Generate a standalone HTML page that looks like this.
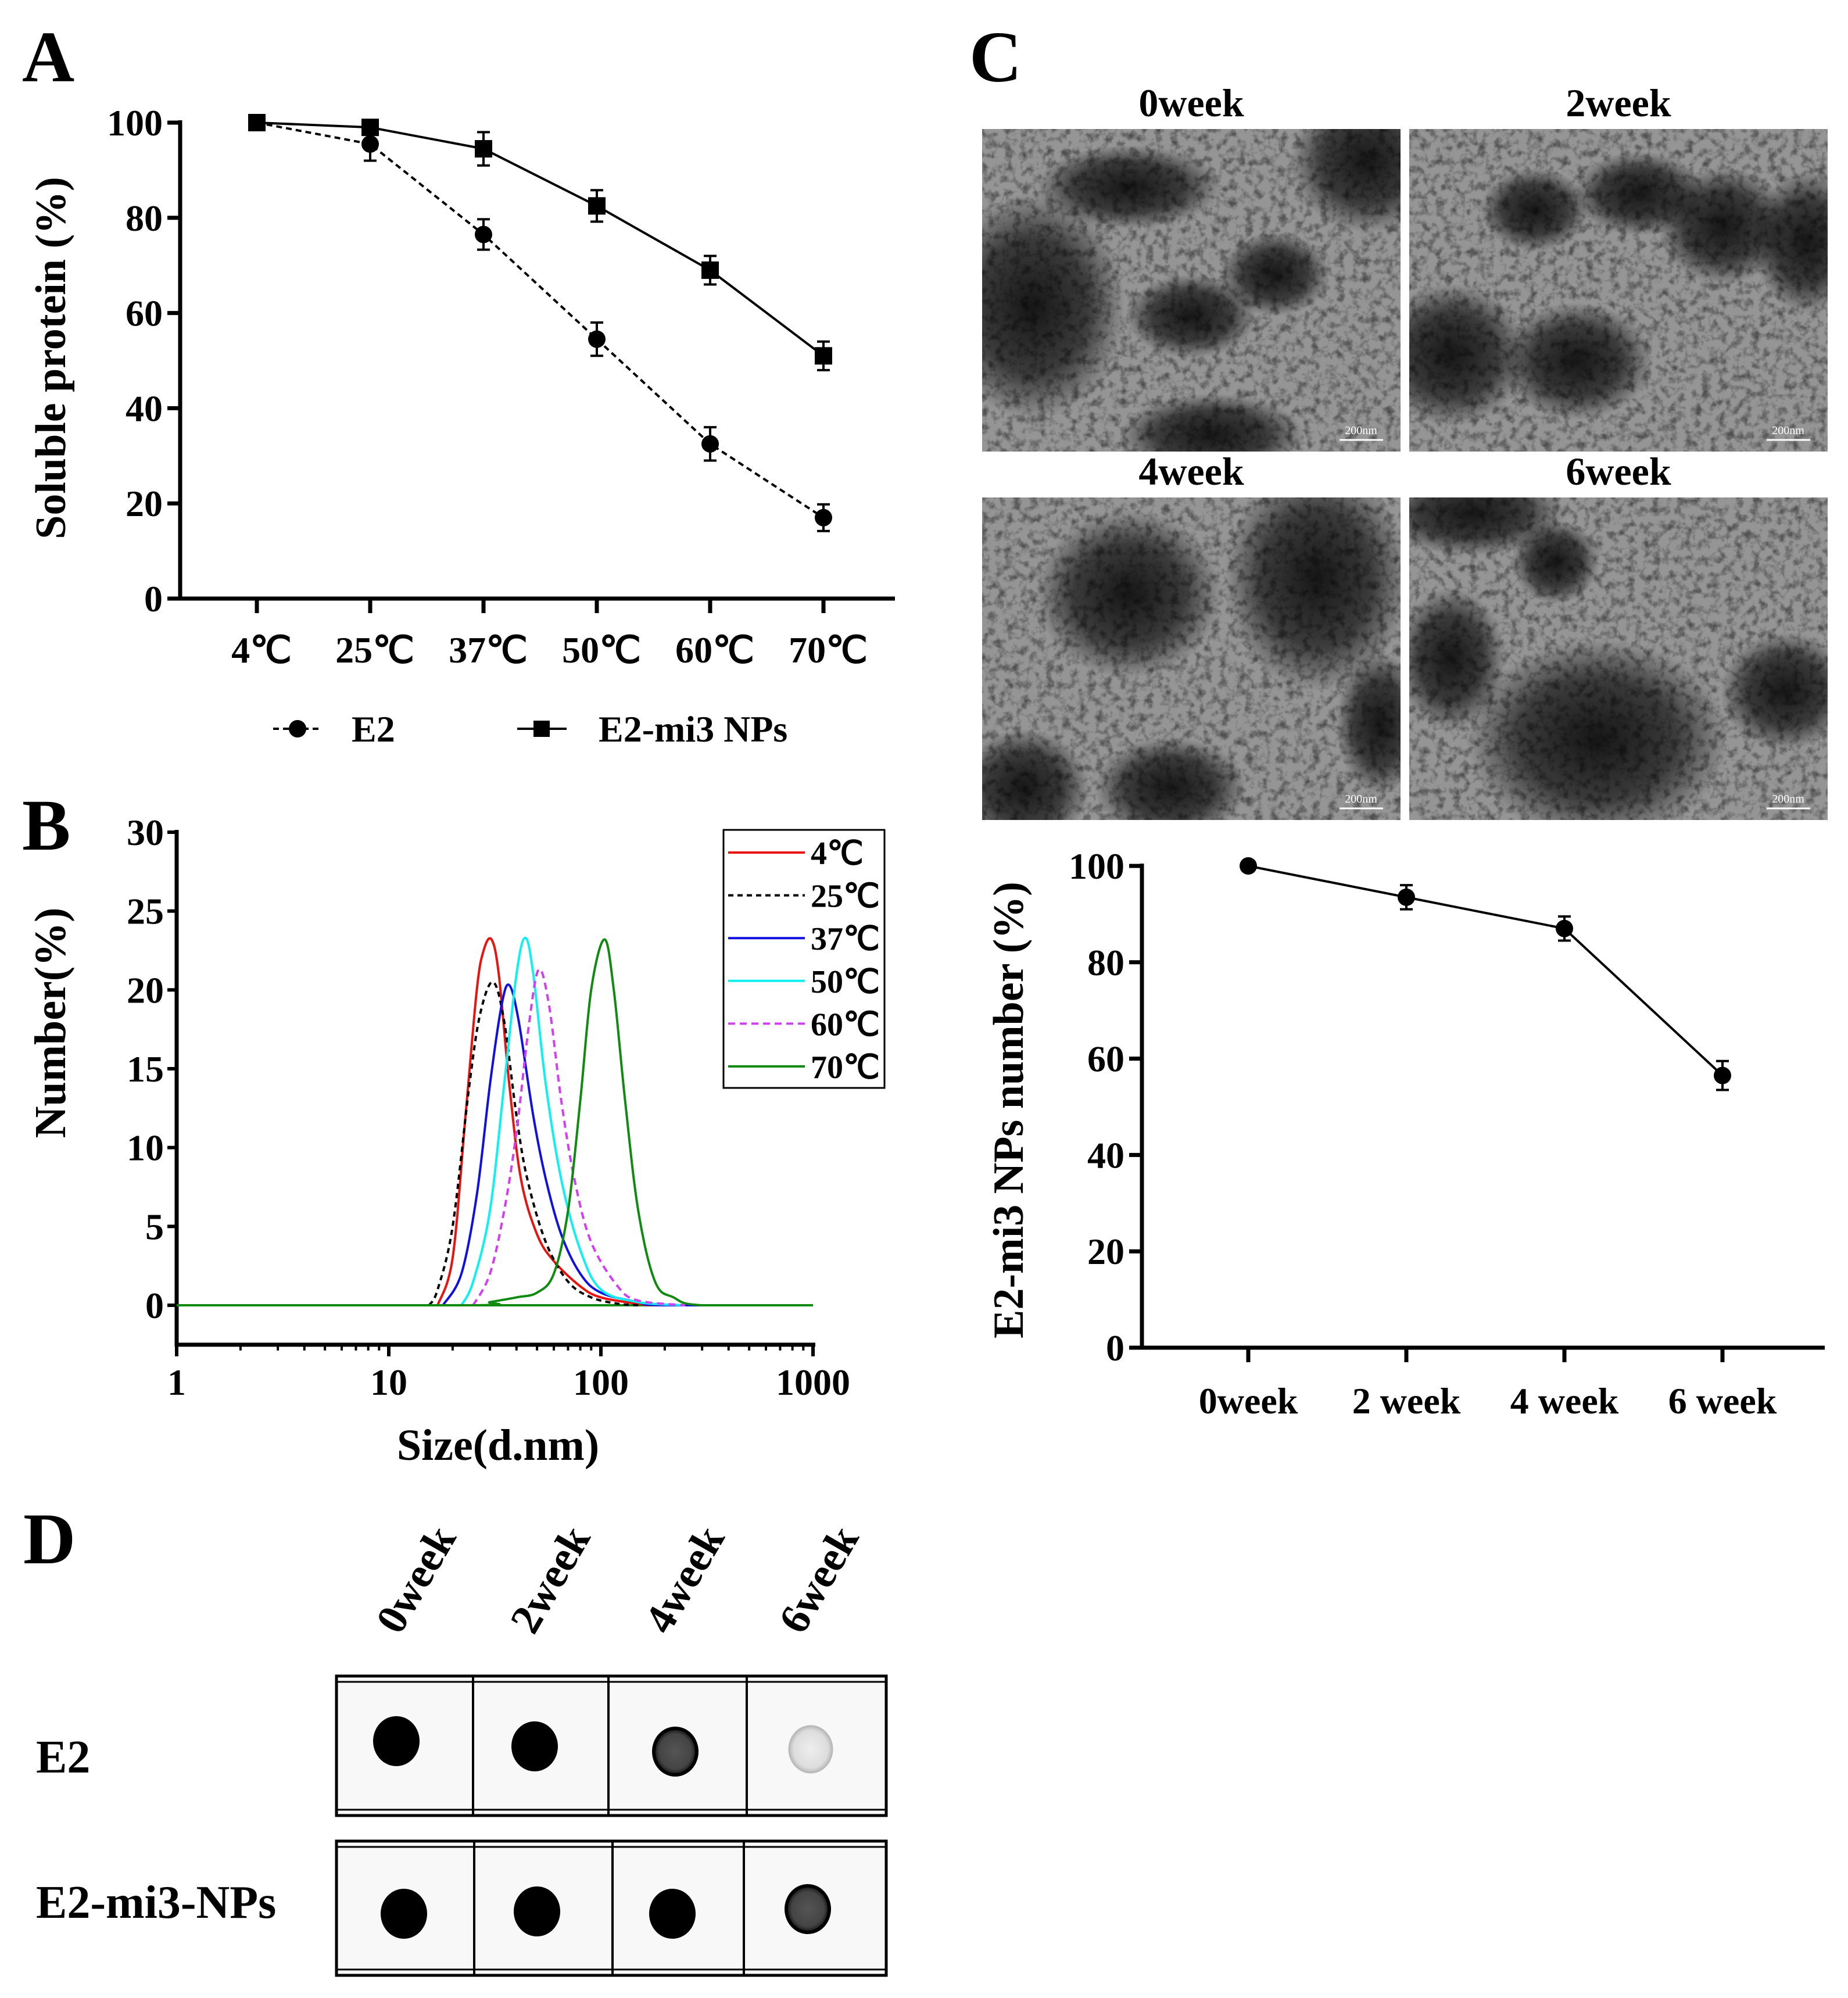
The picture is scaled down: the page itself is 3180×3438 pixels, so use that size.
<!DOCTYPE html>
<html><head><meta charset="utf-8"><style>
html,body{margin:0;padding:0;background:#fff}
svg{display:block;font-family:"Liberation Serif",serif;font-weight:bold}
</style></head><body>
<svg id="fig" width="3180" height="3438" viewBox="0 0 3180 3438" xmlns="http://www.w3.org/2000/svg">
<defs>
<filter id="noise" x="0" y="0" width="100%" height="100%">
<feTurbulence type="fractalNoise" baseFrequency="0.07" numOctaves="3" seed="4"/>
<feColorMatrix type="matrix" values="0 0 0 0 0.08  0 0 0 0 0.08  0 0 0 0 0.08  0 0 0 -2.6 1.45"/>
</filter>
<radialGradient id="blob"><stop offset="0" stop-color="#000" stop-opacity="0.85"/><stop offset="0.6" stop-color="#000" stop-opacity="0.6"/><stop offset="1" stop-color="#000" stop-opacity="0"/></radialGradient>
<radialGradient id="ring"><stop offset="0" stop-color="#555"/><stop offset="0.75" stop-color="#444"/><stop offset="1" stop-color="#111"/></radialGradient>
<radialGradient id="faint"><stop offset="0" stop-color="#eee"/><stop offset="0.8" stop-color="#ddd"/><stop offset="1" stop-color="#bbb"/></radialGradient>
<clipPath id="clip0"><rect x="1690" y="222" width="720" height="555"/></clipPath>
<clipPath id="clip1"><rect x="2425" y="222" width="720" height="555"/></clipPath>
<clipPath id="clip2"><rect x="1690" y="856" width="720" height="555"/></clipPath>
<clipPath id="clip3"><rect x="2425" y="856" width="720" height="555"/></clipPath>
</defs>
<g id="A"></g>
<g id="B"></g>
<g id="C"></g>
<g id="D"></g>
</svg>
<script>
// ---- Panel A data ----
const aCategories = ["4℃","25℃","37℃","50℃","60℃","70℃"];
const aE2 = [100,95.5,76.5,54.5,32.5,17];
const aE2err = [0,3.5,3.2,3.5,3.5,2.8];
const aNP = [100,99,94.5,82.5,69,51];
const aNPerr = [0,1,3.5,3.3,3,3];
const aYTicks = [0,20,40,60,80,100];
// ---- Panel B data ----
const bXTicks = [1,10,100,1000];
const bYTicks = [0,5,10,15,20,25,30];
const bLabels = ["4℃","25℃","37℃","50℃","60℃","70℃"];
const bColors = ["#e8120f","#000","#1010e0","#10f0f0","#d040f0","#108a10"];
const bDash = ["","9,7","","","12,8",""];
const b4x = [17,20,23,26,28,30.5,33,37,42,50,60,80,100,150,200,1000];
const b4y = [0,3,12,20,22.5,23.2,21,14,8,4.5,2.8,1.2,0.5,0.1,0,0];
const b25x = [15.5,17,20,24,27,31,35,40,45,55,70,90,120,150];
const b25y = [0,1,5,14,18.5,20.5,18,12,8,4,1.5,0.5,0.1,0];
const b37x = [18,22,26,30,34,37,41,48,55,65,80,100,150,200,1000];
const b37y = [0,2,7,14,19,20.3,18,12,8,4.5,2,0.8,0.2,0,0];
const b50x = [22,25,30,35,40,44,48,55,65,80,100,150,250];
const b50y = [0,1.5,6,14,21,23.3,21,14,8,3.5,1,0.2,0];
const b60x = [25,30,35,40,46,51,57,65,75,90,120,150,250];
const b60y = [0,2,6,11,18,21.3,19,13,8,4,1.2,0.3,0];
const b70x = [1,25,30,40,50,60,70,80,90,104,115,130,150,180,220,300,1000];
const b70y = [0,0,0.2,0.5,0.8,2,6,13,20,23.2,20,13,6,1.5,0.5,0,0];
// ---- Panel C data ----
const cCategories = ["0week","2 week","4 week","6 week"];
const cVals = [100,93.5,87,56.5];
const cErr = [0,2.5,2.5,3];
const cYTicks = [0,20,40,60,80,100];
const cImgLabels = ["0week","2week","4week","6week"];
// ---- Panel D data ----
const dWeeks = ["0week","2week","4week","6week"];
const dRows = ["E2","E2-mi3-NPs"];
const dIntensityE2 = [1,1,0.7,0.1];
const dIntensityNP = [1,1,1,0.75];

const NS="http://www.w3.org/2000/svg";
function mk(tag,attrs,parent,txt){const e=document.createElementNS(NS,tag);for(const k in attrs)e.setAttribute(k,attrs[k]);if(txt!==undefined)e.textContent=txt;parent.appendChild(e);return e;}

// ================= Panel A =================
const A=document.getElementById('A');
const aX0=310,aX1=1540,aY0=1030,aY1=211;
const aCatX=i=>442+i*195;
const aY=v=>aY0+(aY1-aY0)*v/100;
let t=mk('text',{x:38,y:140,'font-size':125},A,'A');

let ax=mk('path',{d:`M${aX0},${aY1-4}V${aY0}H${aX1}`,stroke:'#000','stroke-width':7,fill:'none'},A);

aYTicks.forEach(v=>{
  let tk=mk('line',{x1:aX0-22,x2:aX0,y1:aY(v),y2:aY(v),stroke:'#000','stroke-width':7},A);
  
  let l=mk('text',{x:aX0-30,y:aY(v)+22,'font-size':64,'text-anchor':'end'},A,v);
  
});
aCategories.forEach((c,i)=>{
  let tk=mk('line',{x1:aCatX(i),x2:aCatX(i),y1:aY0,y2:aY0+25,stroke:'#000','stroke-width':7},A);
  
  let l=mk('text',{x:aCatX(i)+8,y:1140,'font-size':64,'text-anchor':'middle'},A,c);
  
});
t=mk('text',{transform:'translate(112,616) rotate(-90)','font-size':74,'text-anchor':'middle'},A,'Soluble protein (%)');

function series(par,vals,errs,dash,marker,name){
  const pts=vals.map((v,i)=>`${aCatX(i)},${aY(v)}`).join(' ');
  let pl=mk('polyline',{points:pts,fill:'none',stroke:'#000','stroke-width':4,'stroke-dasharray':dash},par);
  
  vals.forEach((v,i)=>{
    const x=aCatX(i);
    if(errs[i]>0){
      let e=mk('path',{d:`M${x},${aY(v+errs[i])}V${aY(v-errs[i])}M${x-11},${aY(v+errs[i])}h22M${x-11},${aY(v-errs[i])}h22`,stroke:'#000','stroke-width':4,fill:'none'},par);
      
    }
    let m=marker==='c'?mk('circle',{cx:x,cy:aY(v),r:15,fill:'#000'},par):mk('rect',{x:x-15,y:aY(v)-15,width:30,height:30,fill:'#000'},par);
    
  });
}
series(A,aE2,aE2err,'10,7','c','e2');
series(A,aNP,aNPerr,'','s','e2-mi3');
let lg=mk('g',{},A);
mk('line',{x1:470,x2:555,y1:1254,y2:1254,stroke:'#000','stroke-width':4,'stroke-dasharray':'10,7'},lg);
mk('circle',{cx:512,cy:1254,r:15,fill:'#000'},lg);
t=mk('text',{x:605,y:1276,'font-size':64},lg,'E2');
mk('line',{x1:890,x2:975,y1:1254,y2:1254,stroke:'#000','stroke-width':4},lg);
mk('rect',{x:918,y:1240,width:28,height:28,fill:'#000'},lg);
t=mk('text',{x:1030,y:1276,'font-size':64},lg,'E2-mi3 NPs');

// ================= Panel B =================
const B=document.getElementById('B');
const bX0=304,bDec=365,bY0=2246,bYmin=-2.5,bPer=(2246-1432)/30;
const bx=v=>bX0+Math.log10(v)*bDec;
const by=v=>bY0-v*bPer;
t=mk('text',{x:38,y:1462,'font-size':125},B,'B');
ax=mk('path',{d:`M${bX0},${by(30)-4}V${by(bYmin)}H${bx(1000)+4}`,stroke:'#000','stroke-width':7,fill:'none'},B);

bYTicks.forEach(v=>{
  let tk=mk('line',{x1:bX0-16,x2:bX0,y1:by(v),y2:by(v),stroke:'#000','stroke-width':6},B);
  
  let l=mk('text',{x:bX0-22,y:by(v)+22,'font-size':64,'text-anchor':'end'},B,v);
  
});
bXTicks.forEach((v,i)=>{
  let tk=mk('line',{x1:bx(v),x2:bx(v),y1:by(bYmin),y2:by(bYmin)+20,stroke:'#000','stroke-width':6},B);
  
  let l=mk('text',{x:bx(v),y:2400,'font-size':64,'text-anchor':'middle'},B,v);
  
  if(i<3)for(let k=2;k<10;k++){let m=mk('line',{x1:bx(v*k),x2:bx(v*k),y1:by(bYmin),y2:by(bYmin)+10,stroke:'#000','stroke-width':4},B);
    }
});
t=mk('text',{x:857,y:2512,'font-size':76,'text-anchor':'middle'},B,'Size(d.nm)');
t=mk('text',{transform:'translate(112,1760) rotate(-90)','font-size':76,'text-anchor':'middle'},B,'Number(%)');
const bXs=[b4x,b25x,b37x,b50x,b60x,b70x],bYs=[b4y,b25y,b37y,b50y,b60y,b70y];
let bl=mk('line',{x1:bx(1),x2:bx(1000),y1:by(0),y2:by(0),stroke:'#108a10','stroke-width':4},B);

function smooth(P){
  let d=`M${P[0][0].toFixed(1)},${P[0][1].toFixed(1)}`;
  for(let i=0;i<P.length-1;i++){
    const p0=P[i-1]||P[i],p1=P[i],p2=P[i+1],p3=P[i+2]||p2;
    const c1=[p1[0]+(p2[0]-p0[0])/6,p1[1]+(p2[1]-p0[1])/6];
    const c2=[p2[0]-(p3[0]-p1[0])/6,p2[1]-(p3[1]-p1[1])/6];
    c1[1]=Math.min(c1[1],by(0));c2[1]=Math.min(c2[1],by(0));
    d+=`C${c1[0].toFixed(1)},${c1[1].toFixed(1)} ${c2[0].toFixed(1)},${c2[1].toFixed(1)} ${p2[0].toFixed(1)},${p2[1].toFixed(1)}`;
  }
  return d;
}
bXs.forEach((xs,s)=>{
  const P=xs.map((x,i)=>[bx(x),by(bYs[s][i])]);
  let p=mk('path',{d:smooth(P),fill:'none',stroke:bColors[s],'stroke-width':4,'stroke-dasharray':bDash[s],'stroke-linejoin':'round'},B);
  
});
let lb=mk('g',{},B);
mk('rect',{x:1245,y:1428,width:277,height:444,fill:'#fff',stroke:'#000','stroke-width':3},lb);
bLabels.forEach((l,i)=>{
  const y=1467+i*73.6;
  let ln=mk('line',{x1:1253,x2:1385,y1:y,y2:y,stroke:bColors[i],'stroke-width':4,'stroke-dasharray':bDash[i]},lb);
  
  let tx=mk('text',{x:1395,y:y+20,'font-size':56},lb,l);
  
});

// ================= Panel C =================
const C=document.getElementById('C');
t=mk('text',{x:1668,y:140,'font-size':125},C,'C');
const imgX=[1690,2425,1690,2425],imgY=[222,222,856,856],imgW=720,imgH=555;
const blobs=[
 [[0.12,0.55,0.17,0.27],[0.92,0.1,0.14,0.17],[0.5,0.58,0.12,0.1],[0.55,0.95,0.17,0.1],[0.35,0.18,0.17,0.1],[0.7,0.45,0.1,0.1]],
 [[0.3,0.25,0.1,0.1],[0.55,0.2,0.12,0.1],[0.95,0.35,0.1,0.17],[0.1,0.7,0.14,0.17],[0.4,0.72,0.14,0.14],[0.75,0.3,0.12,0.14]],
 [[0.35,0.3,0.17,0.2],[0.8,0.25,0.17,0.27],[0.45,0.9,0.14,0.12],[0.1,0.9,0.12,0.14],[0.95,0.7,0.08,0.17]],
 [[0.45,0.75,0.24,0.24],[0.15,0.05,0.17,0.1],[0.35,0.2,0.08,0.1],[0.9,0.6,0.12,0.14],[0.1,0.5,0.1,0.17]]
];
cImgLabels.forEach((lab,i)=>{
  const g=mk('g',{'clip-path':`url(#clip${i})`},C);
  mk('rect',{x:imgX[i],y:imgY[i],width:imgW,height:imgH,fill:'#959595'},g);
  mk('rect',{x:imgX[i],y:imgY[i],width:imgW,height:imgH,filter:'url(#noise)'},g);
  blobs[i].forEach(b=>mk('ellipse',{cx:imgX[i]+b[0]*imgW,cy:imgY[i]+b[1]*imgH,rx:b[2]*imgW*1.3,ry:b[3]*imgH*1.3,fill:'url(#blob)'},g));
  mk('line',{x1:imgX[i]+615,x2:imgX[i]+690,y1:imgY[i]+535,y2:imgY[i]+535,stroke:'#fff','stroke-width':3},g);
  mk('text',{x:imgX[i]+652,y:imgY[i]+525,'font-size':20,fill:'#fff','text-anchor':'middle','font-weight':'normal'},g,'200nm');
  let tl=mk('text',{x:imgX[i]+imgW/2,y:imgY[i]-22,'font-size':68,'text-anchor':'middle'},C,lab);
  
});
const cX0=1965,cX1=3140,cY0=2319,cY1=1490;
const cCatX=i=>2148+i*272;
const cY=v=>cY0+(cY1-cY0)*v/100;
ax=mk('path',{d:`M${cX0},${cY1-4}V${cY0}H${cX1}`,stroke:'#000','stroke-width':7,fill:'none'},C);

cYTicks.forEach(v=>{
  let tk=mk('line',{x1:cX0-22,x2:cX0,y1:cY(v),y2:cY(v),stroke:'#000','stroke-width':7},C);
  
  let l=mk('text',{x:cX0-30,y:cY(v)+22,'font-size':64,'text-anchor':'end'},C,v);
  
});
cCategories.forEach((c,i)=>{
  let tk=mk('line',{x1:cCatX(i),x2:cCatX(i),y1:cY0,y2:cY0+25,stroke:'#000','stroke-width':7},C);
  
  let l=mk('text',{x:cCatX(i),y:2432,'font-size':64,'text-anchor':'middle'},C,c);
  
});
t=mk('text',{transform:'translate(1760,1910) rotate(-90)','font-size':74,'text-anchor':'middle'},C,'E2-mi3 NPs number (%)');

let cl=mk('polyline',{points:cVals.map((v,i)=>`${cCatX(i)},${cY(v)}`).join(' '),fill:'none',stroke:'#000','stroke-width':4},C);

cVals.forEach((v,i)=>{
  const x=cCatX(i);
  if(cErr[i]>0){let e=mk('path',{d:`M${x},${cY(v+cErr[i])}V${cY(v-cErr[i])}M${x-11},${cY(v+cErr[i])}h22M${x-11},${cY(v-cErr[i])}h22`,stroke:'#000','stroke-width':4,fill:'none'},C);
    }
  let m=mk('circle',{cx:x,cy:cY(v),r:15,fill:'#000'},C);
  
});

// ================= Panel D =================
const D=document.getElementById('D');
t=mk('text',{x:40,y:2690,'font-size':125},D,'D');
const dColX=[737,968,1199,1430];
dWeeks.forEach((w,i)=>{
  let l=mk('text',{transform:`translate(${dColX[i]},2730) rotate(-60)`,'font-size':74,'text-anchor':'middle'},D,w);
  
});
const rowY=[2884,3168],rowH=[240,231];
const dividers=[[814,1047,1285],[816,1054,1280]];
const dotX=[[682,920,1162,1395],[695,924,1157,1390]],dotY=[[2996,3005,3014,3010],[3293,3289,3293,3285]];
dRows.forEach((r,ri)=>{
  const g=mk('g',{},D);
  mk('rect',{x:579,y:rowY[ri],width:946,height:rowH[ri],fill:'#f8f8f8',stroke:'#000','stroke-width':5},g);
  mk('line',{x1:579,x2:1525,y1:rowY[ri]+10,y2:rowY[ri]+10,stroke:'#000','stroke-width':3},g);
  mk('line',{x1:579,x2:1525,y1:rowY[ri]+rowH[ri]-10,y2:rowY[ri]+rowH[ri]-10,stroke:'#000','stroke-width':3},g);
  dividers[ri].forEach(x=>mk('line',{x1:x,x2:x,y1:rowY[ri],y2:rowY[ri]+rowH[ri],stroke:'#000','stroke-width':4},g));
  const inten=ri?dIntensityNP:dIntensityE2;
  inten.forEach((v,ci)=>{
    const fill=v>=0.95?'#000':(v>0.5?'url(#ring)':'url(#faint)');
    let d=mk('ellipse',{cx:dotX[ri][ci],cy:dotY[ri][ci],rx:37,ry:40,fill:fill,stroke:v>0.5?'#000':'#bbb','stroke-width':v>0.5?6:3},g);
    
  });
  let l=mk('text',{x:62,y:(ri?3300:3050),'font-size':80},D,r);
  
});
</script>
</body></html>
